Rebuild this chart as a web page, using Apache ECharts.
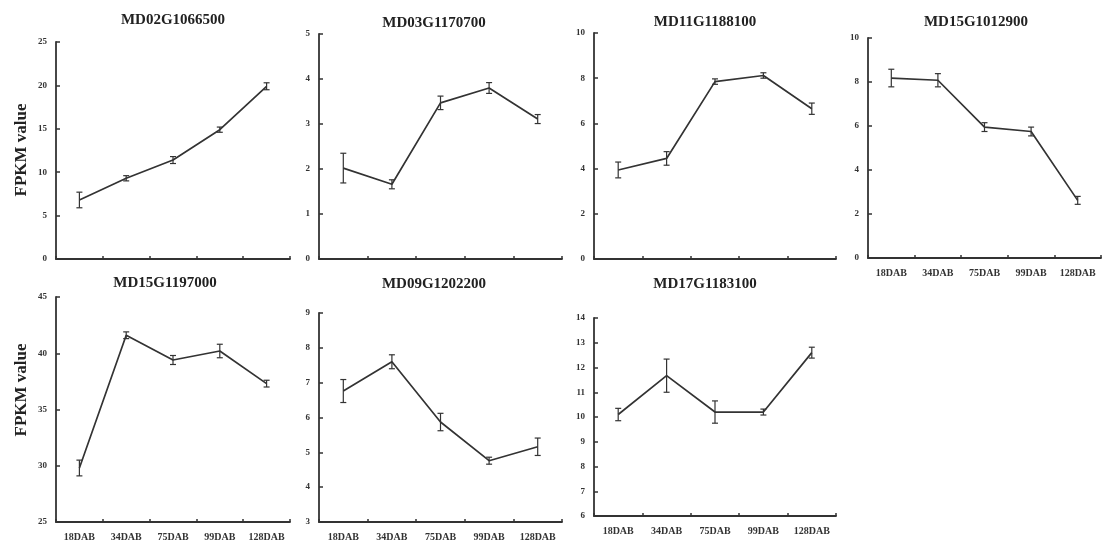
<!DOCTYPE html>
<html><head><meta charset="utf-8">
<script src="https://cdn.jsdelivr.net/npm/echarts@6/dist/echarts.min.js"></script>
<style>html,body{margin:0;padding:0;background:#fff}#c{width:1102px;height:542px}</style>
</head><body><div id="c"></div>
<script>
// ---- data ----
const categories = ['18DAB', '34DAB', '75DAB', '99DAB', '128DAB'];
const genes = ['MD02G1066500', 'MD03G1170700', 'MD11G1188100', 'MD15G1012900', 'MD15G1197000', 'MD09G1202200', 'MD17G1183100'];
const valsMD02G1066500 = [6.8, 9.3, 11.4, 14.9, 19.9];
const errsMD02G1066500 = [0.9, 0.3, 0.4, 0.3, 0.4];
const valsMD03G1170700 = [2.02, 1.66, 3.47, 3.80, 3.11];
const errsMD03G1170700 = [0.33, 0.10, 0.15, 0.12, 0.10];
const valsMD11G1188100 = [3.94, 4.45, 7.85, 8.12, 6.65];
const errsMD11G1188100 = [0.35, 0.30, 0.12, 0.12, 0.25];
const valsMD15G1012900 = [8.18, 8.08, 5.95, 5.75, 2.62];
const errsMD15G1012900 = [0.40, 0.30, 0.20, 0.20, 0.18];
const valsMD15G1197000 = [29.8, 41.6, 39.4, 40.2, 37.3];
const errsMD15G1197000 = [0.7, 0.3, 0.4, 0.6, 0.3];
const valsMD09G1202200 = [6.76, 7.60, 5.87, 4.76, 5.16];
const errsMD09G1202200 = [0.33, 0.20, 0.25, 0.10, 0.25];
const valsMD17G1183100 = [10.1, 11.67, 10.2, 10.2, 12.6];
const errsMD17G1183100 = [0.25, 0.67, 0.45, 0.12, 0.22];
const values = [valsMD02G1066500, valsMD03G1170700, valsMD11G1188100, valsMD15G1012900, valsMD15G1197000, valsMD09G1202200, valsMD17G1183100];
const errors = [errsMD02G1066500, errsMD03G1170700, errsMD11G1188100, errsMD15G1012900, errsMD15G1197000, errsMD09G1202200, errsMD17G1183100];
// y-axis tick ranges per panel
const yMins = [0, 0, 0, 0, 25, 3, 6];
const yMaxs = [25, 5, 10, 10, 45, 9, 14];
const ySteps = [5, 1, 2, 2, 5, 1, 1];
const yAxisTitle = 'FPKM value';

// ---- layout ----
const grids = [
  {left: 56, top: 42, width: 234, height: 217},
  {left: 319, top: 34, width: 243, height: 225},
  {left: 594, top: 33, width: 242, height: 226},
  {left: 868, top: 38, width: 233, height: 220},
  {left: 56, top: 297, width: 234, height: 225},
  {left: 319, top: 313, width: 243, height: 209},
  {left: 594, top: 318, width: 242, height: 198}
];
const titlePos = [[173, 13], [434, 16], [705, 15], [976, 15], [165, 276], [434, 277], [705, 277]];
const showXLabels = [false, false, false, true, true, true, true];

const serif = '"Liberation Serif", "Times New Roman", serif';
const ink = '#333';

const option = {
  backgroundColor: '#fff',
  animation: false,
  title: genes.map((g, i) => ({
    text: g, left: titlePos[i][0], top: titlePos[i][1], textAlign: 'center', padding: 0,
    textStyle: {fontFamily: serif, fontWeight: 'bold', fontSize: 15, color: '#222'}
  })),
  grid: grids.map(g => Object.assign({containLabel: false}, g)),
  xAxis: genes.map((g, i) => ({
    type: 'category', gridIndex: i, data: categories, boundaryGap: true,
    axisLine: {lineStyle: {color: ink, width: 1.8}},
    axisTick: {show: true, inside: true, length: 3, lineStyle: {color: ink, width: 1.5}},
    axisLabel: {show: showXLabels[i], margin: 10, fontFamily: serif, fontWeight: 'bold', fontSize: 10, color: '#333', interval: 0},
    splitLine: {show: false}
  })),
  yAxis: genes.map((g, i) => ({
    type: 'value', gridIndex: i, min: yMins[i], max: yMaxs[i], interval: ySteps[i],
    axisLine: {show: true, lineStyle: {color: ink, width: 1.8}},
    axisTick: {show: true, inside: true, length: 4, lineStyle: {color: ink, width: 1.5}},
    axisLabel: {margin: 9, fontFamily: serif, fontWeight: 'bold', fontSize: 9, color: '#333'},
    splitLine: {show: false}
  })),
  graphic: [
    {type: 'text', rotation: Math.PI / 2,
     style: {text: yAxisTitle, font: 'bold 17px ' + serif, fill: '#222', textAlign: 'center', textVerticalAlign: 'middle'},
     position: [22, 150], silent: true},
    {type: 'text', rotation: Math.PI / 2,
     style: {text: yAxisTitle, font: 'bold 17px ' + serif, fill: '#222', textAlign: 'center', textVerticalAlign: 'middle'},
     position: [22, 390], silent: true}
  ],
  series: []
};

genes.forEach((g, i) => {
  option.series.push({
    type: 'line', name: g, xAxisIndex: i, yAxisIndex: i, data: values[i],
    symbol: 'none', lineStyle: {color: ink, width: 1.7}, z: 2
  });
  option.series.push({
    type: 'custom', name: g + ' error', xAxisIndex: i, yAxisIndex: i, z: 3,
    encode: {x: 0, y: 1},
    data: values[i].map((v, k) => [k, v, errors[i][k]]),
    renderItem: (params, api) => {
      const x = api.value(0), v = api.value(1), e = api.value(2);
      const t = api.coord([x, v + e]), b = api.coord([x, v - e]);
      const w = 3;
      const st = {stroke: ink, lineWidth: 1.2};
      return {type: 'group', children: [
        {type: 'line', shape: {x1: t[0], y1: t[1], x2: b[0], y2: b[1]}, style: st},
        {type: 'line', shape: {x1: t[0] - w, y1: t[1], x2: t[0] + w, y2: t[1]}, style: st},
        {type: 'line', shape: {x1: b[0] - w, y1: b[1], x2: b[0] + w, y2: b[1]}, style: st}
      ]};
    }
  });
});

const chart = echarts.init(document.getElementById('c'), null, {renderer: 'canvas'});
chart.setOption(option);
</script>
</body></html>
